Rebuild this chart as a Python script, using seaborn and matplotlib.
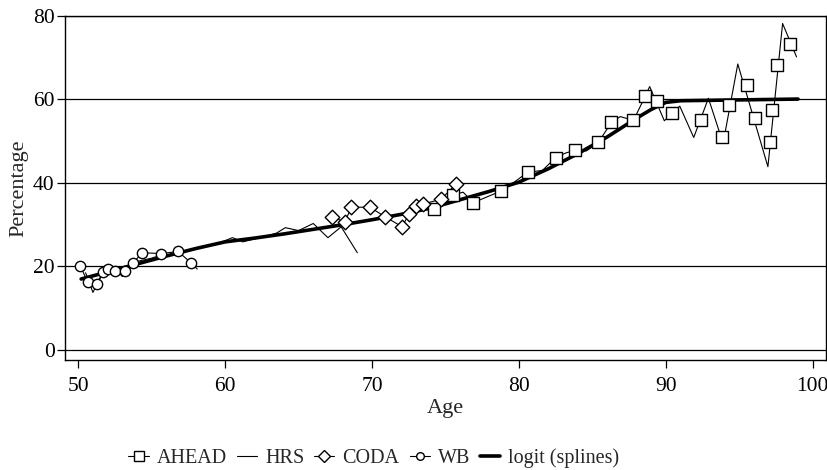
import matplotlib
matplotlib.use("Agg")
import matplotlib.pyplot as plt
from matplotlib.lines import Line2D
import seaborn as sns

# AHEAD: markers and the thin line it draws
ahead_age = [74.2, 75.5, 76.9, 78.8, 80.6, 82.5, 83.8, 85.4, 86.3, 87.8, 88.6,
             89.4, 90.4, 92.4, 93.8, 94.3, 95.5, 96.05, 97.07, 97.23, 97.57, 98.48]
ahead_pct = [33.8, 37.1, 35.3, 38.1, 42.6, 46.1, 47.8, 49.7, 54.5, 55.0, 60.8,
             59.6, 56.7, 55.1, 50.9, 58.7, 63.5, 55.5, 49.9, 57.4, 68.3, 73.3]
ahead_line_age = [74.2, 75.5, 76.2, 76.9, 78.8, 79.8, 80.6, 81.6, 82.5, 83.2, 83.8,
                  84.6, 85.4, 86.3, 86.9, 87.8, 88.6, 88.9, 89.9, 90.95, 91.9, 92.9,
                  93.9, 94.9, 96.95, 97.95, 98.9]
ahead_line_pct = [33.8, 37.1, 37.8, 35.3, 38.1, 40.5, 42.6, 43.0, 46.1, 47.2, 47.8,
                  47.7, 49.7, 54.5, 55.9, 55.0, 60.8, 63.1, 54.9, 58.4, 50.9, 60.3,
                  49.5, 68.5, 43.9, 78.2, 70.2]

# HRS (line only)
hrs_age = [50.5, 51.0, 51.7, 52.5, 53.0, 53.5, 54.0, 55.0, 55.6, 56.5, 57.5, 58.5,
           59.5, 60.5, 61.2, 62.5, 63.5, 64.1, 65.0, 66.0, 67.0, 67.9, 69.0]
hrs_pct = [18.5, 13.8, 18.5, 19.5, 17.6, 19.5, 21.2, 22.0, 22.7, 23.0, 24.0, 24.8,
           25.5, 26.9, 25.9, 27.0, 28.0, 29.3, 28.6, 30.3, 26.9, 29.5, 23.3]

# CODA
coda_age = [67.3, 68.15, 68.6, 69.85, 70.9, 72.05, 72.5, 73.0, 73.5, 74.7, 75.7]
coda_pct = [31.8, 30.7, 34.2, 34.2, 31.9, 29.5, 32.5, 34.6, 35.0, 36.1, 39.7]

# WB (last point has no marker)
wb_age = [50.15, 50.65, 51.25, 51.7, 52.05, 52.5, 53.2, 53.75, 54.35, 55.65, 56.8, 57.7, 58.1]
wb_pct = [20.1, 16.2, 15.9, 18.7, 19.4, 18.9, 18.9, 20.9, 23.3, 23.1, 23.6, 20.8, 19.4]

# logit (splines)
logit_age = [50.2, 52, 54, 56, 58, 60, 62, 64, 66, 68, 70, 72, 74, 76, 78, 80,
             82, 84, 86, 88, 89, 90, 91, 95, 99]
logit_pct = [17.0, 18.7, 20.6, 22.5, 24.3, 25.9, 26.8, 27.8, 28.9, 30.0, 31.2, 32.5,
             34.0, 36.0, 38.0, 40.2, 43.4, 47.0, 51.0, 55.5, 57.6, 59.3, 59.7, 59.9, 60.1]

sns.set_style("ticks")
plt.rcParams["font.family"] = ["Liberation Serif", "DejaVu Serif"]

fig = plt.figure(figsize=(8.28, 4.70), dpi=100)
ax = fig.add_axes([0.0785, 0.234, 0.919, 0.732])

thin = 0.8
sns.lineplot(x=hrs_age, y=hrs_pct, color="black", lw=thin, ax=ax, sort=False, zorder=2)
sns.lineplot(x=ahead_line_age, y=ahead_line_pct, color="black", lw=thin, ax=ax, sort=False, zorder=2)
sns.lineplot(x=coda_age, y=coda_pct, color="black", lw=thin, ax=ax, sort=False, zorder=2)
sns.lineplot(x=wb_age, y=wb_pct, color="black", lw=thin, ax=ax, sort=False, zorder=2)
sns.lineplot(x=logit_age, y=logit_pct, color="black", lw=2.6, ax=ax, sort=False, zorder=3)

sns.scatterplot(x=ahead_age, y=ahead_pct, marker="s", s=85, facecolor="white",
                edgecolor="black", linewidth=1.0, ax=ax, zorder=4)
sns.scatterplot(x=coda_age, y=coda_pct, marker="D", s=55, facecolor="white",
                edgecolor="black", linewidth=1.0, ax=ax, zorder=4)
sns.scatterplot(x=wb_age[:-1], y=wb_pct[:-1], marker="o", s=55, facecolor="white",
                edgecolor="black", linewidth=1.0, ax=ax, zorder=4)

ax.set_xlim(49.1, 100.9)
ax.set_ylim(-2.4, 80)
ax.set_xticks([50, 60, 70, 80, 90, 100])
ax.set_yticks([0, 20, 40, 60, 80])
ax.yaxis.grid(True, color="black", lw=0.9)
ax.tick_params(axis="both", direction="out", length=5.5, width=0.9, labelsize=15.5, colors="black")
ax.tick_params(axis="x", pad=7)
ax.tick_params(axis="y", pad=2)
for sp in ax.spines.values():
    sp.set_visible(True)
    sp.set_color("black")
    sp.set_linewidth(1.0)
ax.set_xlabel("Age", fontsize=16, labelpad=2)
ax.set_ylabel("Percentage", fontsize=16, labelpad=3)

handles = [
    Line2D([], [], color="black", lw=thin, marker="s", ms=7, mfc="white", mec="black"),
    Line2D([], [], color="black", lw=thin),
    Line2D([], [], color="black", lw=thin, marker="D", ms=6, mfc="white", mec="black"),
    Line2D([], [], color="black", lw=thin, marker="o", ms=5.5, mfc="white", mec="black"),
    Line2D([], [], color="black", lw=2.6),
]
labels = ["AHEAD", "HRS", "CODA", "WB", "logit (splines)"]
fig.legend(handles, labels, loc="center", bbox_to_anchor=(374 / 828, 1 - 458 / 470),
           ncol=5, frameon=False, fontsize=14.5, handlelength=1.0, columnspacing=0.5,
           handletextpad=0.4)

fig.savefig("out.png", dpi=100)
